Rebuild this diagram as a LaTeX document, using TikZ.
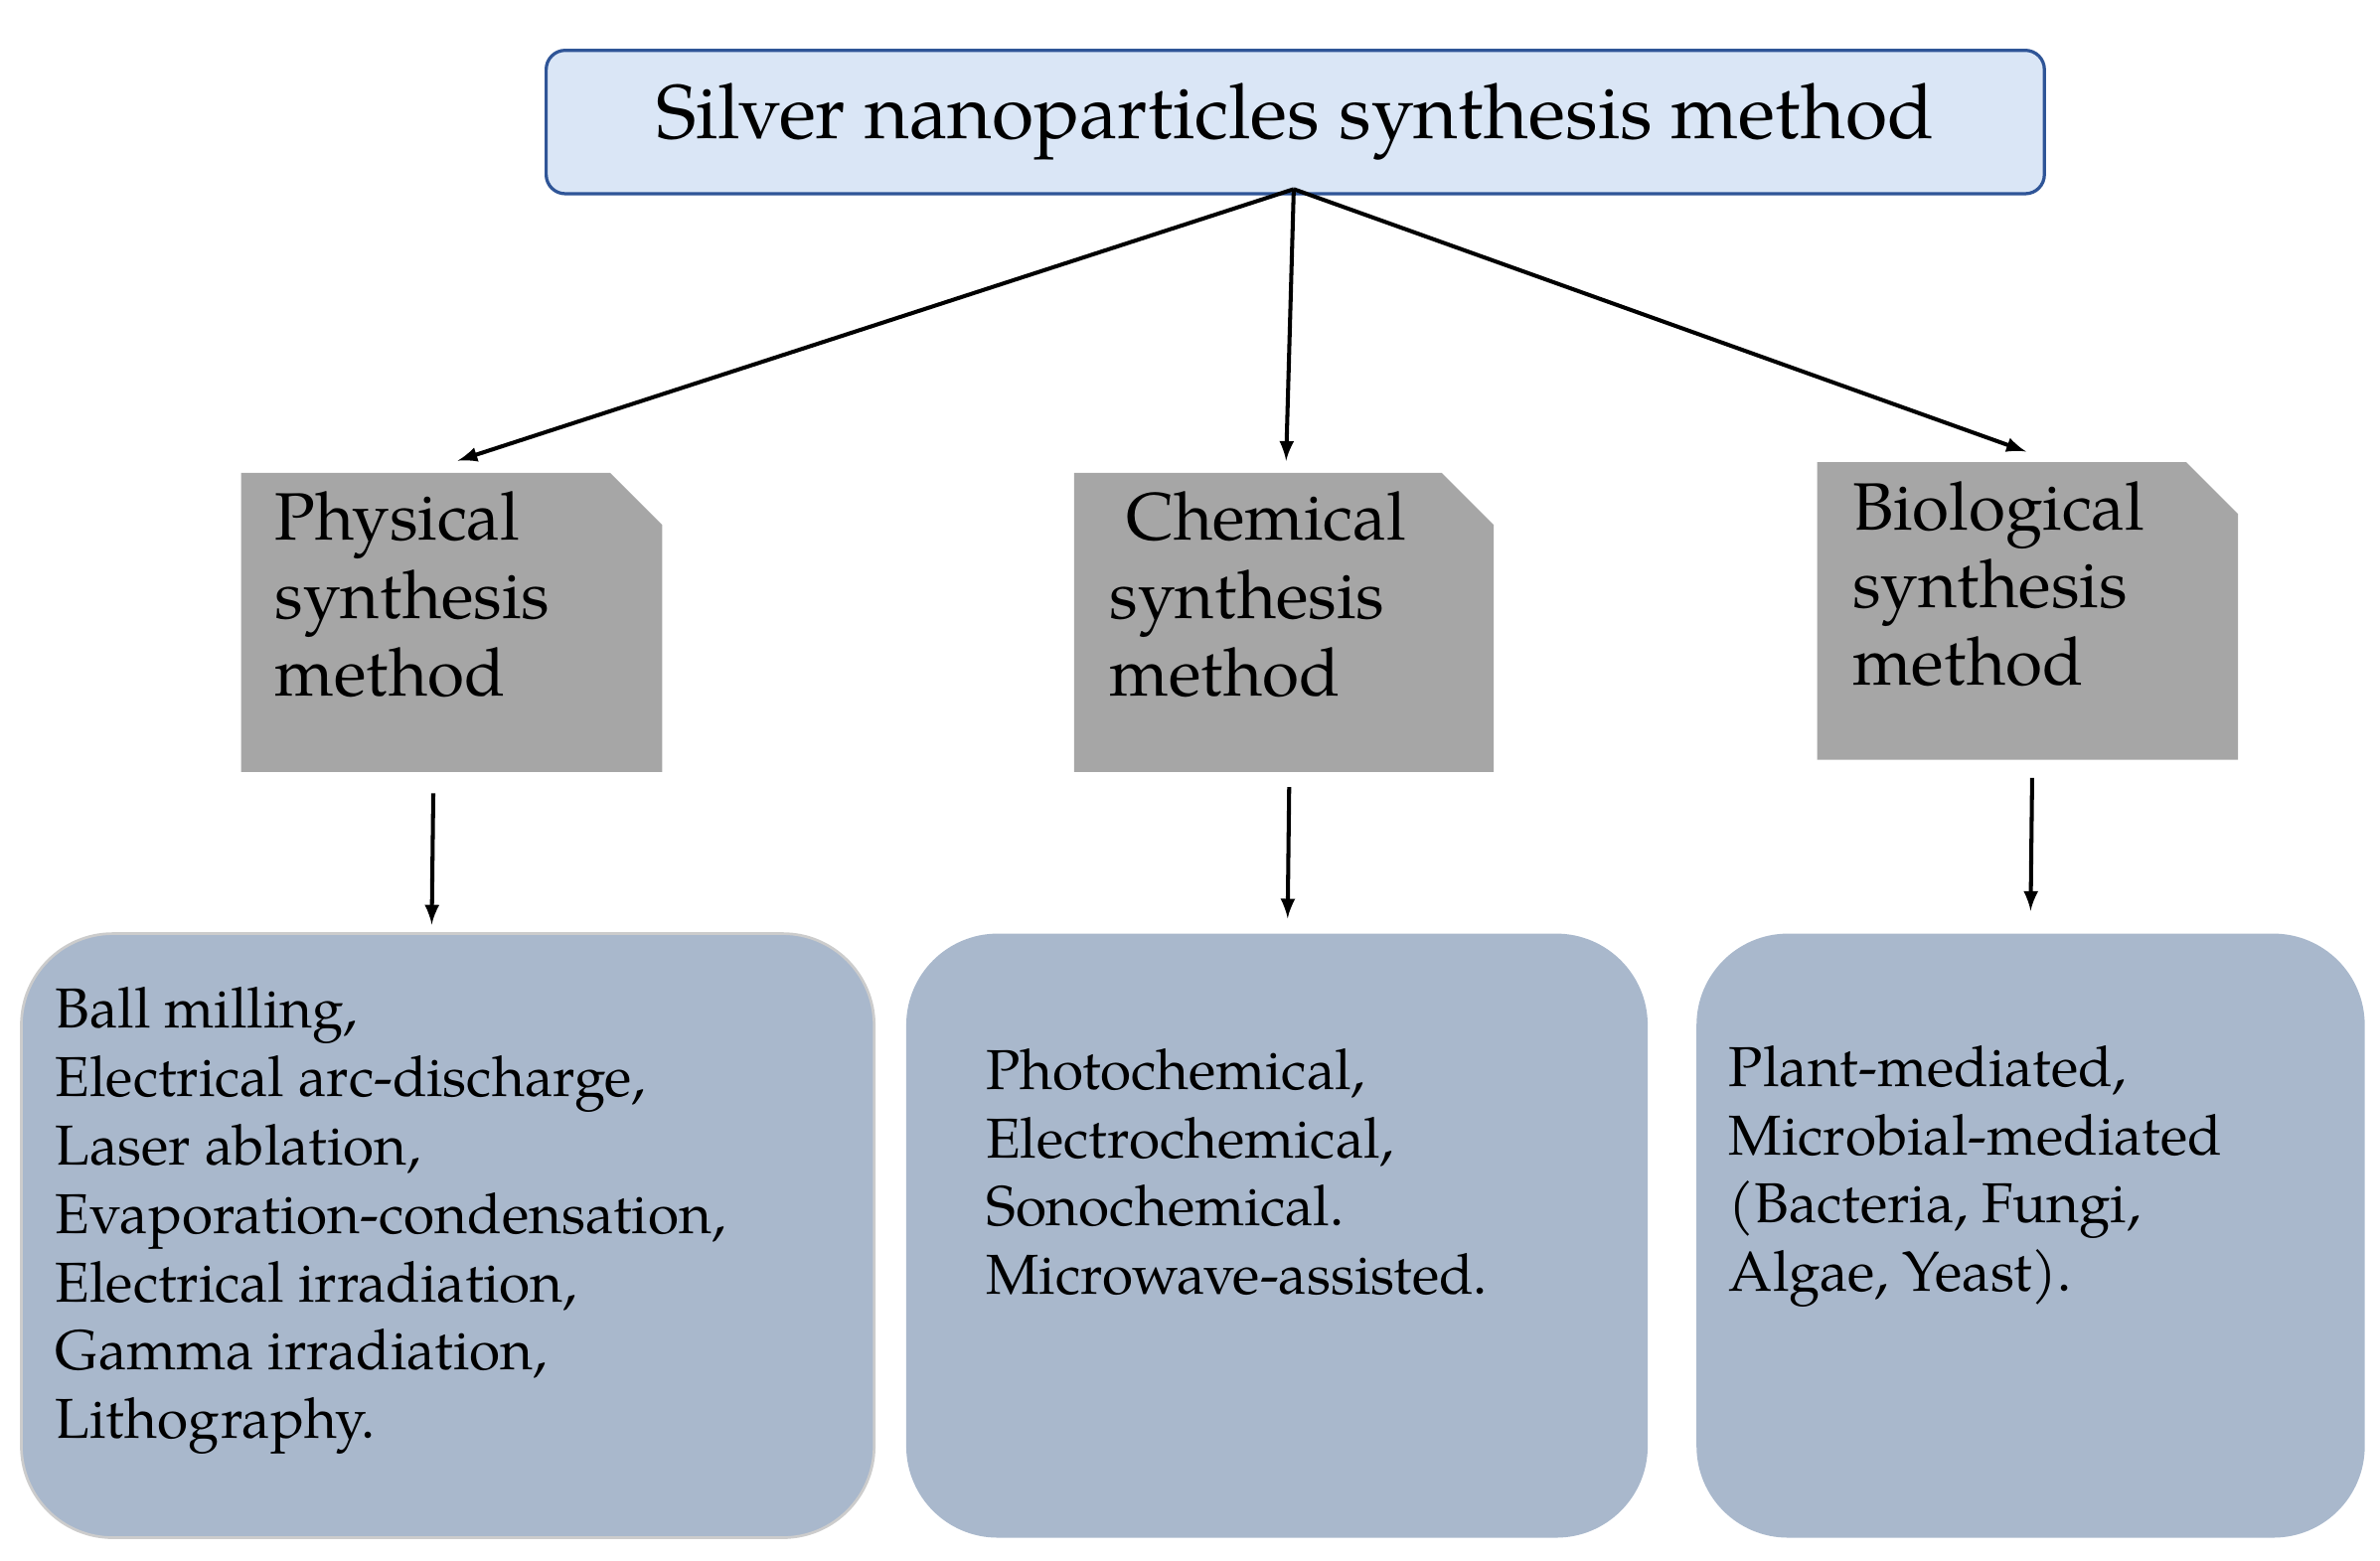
\documentclass[tikz,border=0pt]{standalone}
\usepackage{fontspec}
\setmainfont{TeX Gyre Pagella}
\begin{document}
\begin{tikzpicture}[x=0.02cm,y=-0.02cm,
 gbox/.style={fill=gray!70},
 bbox/.style={fill=bb,rounded corners=1.2cm},
 arr/.style={-latex,line width=1.5pt},
 txt/.style={anchor=north west,align=left,inner sep=0pt},
 mid/.style={txt,font=\fontsize{25}{29}\selectfont},
 low/.style={txt,font=\fontsize{21}{25.5}\selectfont}]
\definecolor{bb}{HTML}{A9B8CC}
\definecolor{tb}{HTML}{DAE6F6}
\definecolor{te}{HTML}{2F5597}
\useasboundingbox (0,0) rectangle (1560,1023);
\draw[fill=tb,draw=te,line width=1.2pt,rounded corners=0.25cm] (358,33) rectangle (1340,127);
\node[font=\fontsize{28.5}{34}\selectfont] (top) at (849,80) {Silver nanoparticles synthesis method};
\coordinate (ts) at (848,124);
% gray boxes
\fill[gbox] (158,310) -- (400,310) -- (434,344) -- (434,506) -- (158,506) -- cycle;
\fill[gbox] (704,310) -- (945,310) -- (979,344) -- (979,506) -- (704,506) -- cycle;
\fill[gbox] (1191,303) -- (1433,303) -- (1467,337) -- (1467,498) -- (1191,498) -- cycle;
\node[mid] (p) at (180,322) {Physical\\synthesis\\method};
\node[mid] (c) at (727,322) {\ Chemical\\synthesis\\method};
\node[mid] (b) at (1214,315) {Biological\\synthesis\\method};
% bottom boxes
\draw[bbox,draw=gray!40,line width=1pt] (14,612) rectangle (573,1008);
\fill[bbox] (594,612) rectangle (1080,1008);
\fill[bbox] (1112,612) rectangle (1550,1008);
\node[low] (pl) at (36,647) {Ball milling,\\Electrical arc-discharge,\\Laser ablation,\\Evaporation-condensation,\\Electrical irradiation,\\Gamma irradiation,\\Lithography.};
\node[low] (cl) at (646,687) {Photochemical,\\Electrochemical,\\Sonochemical.\\Microwave-assisted.};
\node[low] (bl) at (1133,685) {Plant-mediated,\\Microbial-mediated\\(Bacteria, Fungi,\\Algae, Yeast).};
% arrows
\coordinate (a1) at (300,302); \coordinate (a2) at (843,302); \coordinate (a3) at (1328,296);
\draw[arr] (ts) -- (a1);
\draw[arr] (ts) -- (a2);
\draw[arr] (ts) -- (a3);
\coordinate (d1s) at (284,520); \coordinate (d1e) at (283,606);
\coordinate (d2s) at (845,516); \coordinate (d2e) at (844,602);
\coordinate (d3s) at (1332,510); \coordinate (d3e) at (1331,597);
\draw[arr] (d1s) -- (d1e);
\draw[arr] (d2s) -- (d2e);
\draw[arr] (d3s) -- (d3e);
\end{tikzpicture}
\end{document}
